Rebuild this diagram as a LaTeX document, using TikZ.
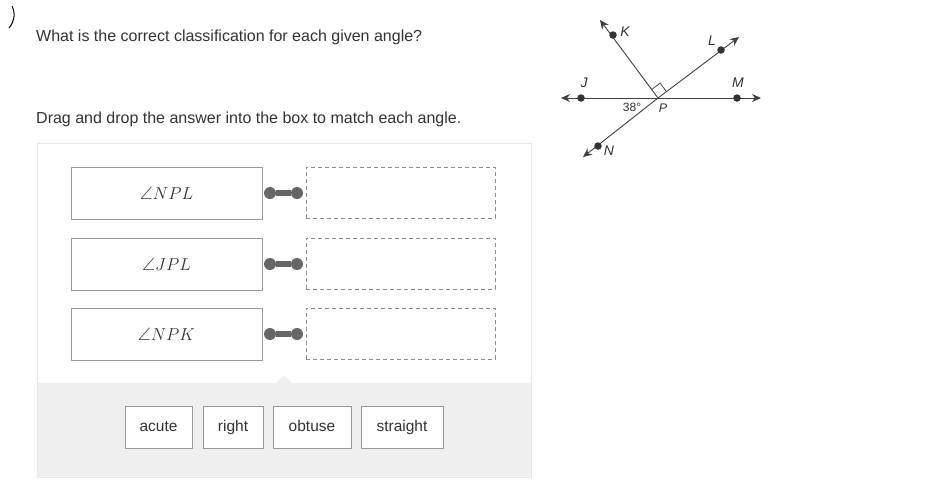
\documentclass[tikz,border=0pt]{standalone}
\usepackage{fontspec}
\setmainfont{Liberation Sans}
\usepackage{amssymb}
\usetikzlibrary{arrows.meta}
\definecolor{txt}{HTML}{333333}
\definecolor{bord}{HTML}{E6E6E6}
\definecolor{greyb}{HTML}{EFEFEF}
\definecolor{knob}{HTML}{666666}
\tikzset{
  lbox/.style={draw=gray!80, fill=white, minimum width=191pt, minimum height=52pt, inner sep=0pt, font=\fontsize{18}{20}\selectfont, text=txt},
  dbox/.style={draw=gray!90, dashed, dash pattern=on 4pt off 3pt, minimum width=189pt, minimum height=51pt, inner sep=0pt},
  btn/.style={draw=gray!80, fill=white, minimum height=42pt, inner sep=0pt, text height=11pt, text depth=3pt, font=\fontsize{15.5}{18}\selectfont, text=txt},
  dot/.style={circle, fill=black!80, inner sep=0pt, minimum size=7.5pt},
  ray/.style={draw=black!75, line width=0.9pt, -{Stealth[length=9pt,width=8pt]}},
  plab/.style={font=\itshape\fontsize{14}{16}\selectfont, text=black!80, inner sep=1pt},
  q/.style={font=\fontsize{16}{18}\selectfont, text=txt, anchor=west, inner sep=0pt}
}
\begin{document}
\begin{tikzpicture}[x=1pt,y=-1pt]
\useasboundingbox (0,0) rectangle (946,488);
\fill[white] (0,0) rectangle (946,488);
\draw[black, line width=1pt] (12,6) .. controls (16,14) and (14,22) .. (9,28);
\node[q] (q1) at (36,37) {What is the correct classification for each given angle?};
\node[q] (q2) at (36,119) {Drag and drop the answer into the box to match each angle.};
% panel
\draw[bord, fill=white] (37,143) rectangle (531,477);
\fill[greyb] (37.5,383) -- (276,383) -- (284,375) -- (292,383) -- (530.5,383) -- (530.5,476.5) -- (37.5,476.5) -- cycle;
\node[lbox] (a1) at (166.5,193) {$\angle NPL$};
\node[lbox] (a2) at (166.5,264) {$\angle JPL$};
\node[lbox] (a3) at (166.5,334) {$\angle NPK$};
\node[dbox] (d1) at (400.5,192.5) {};
\node[dbox] (d2) at (400.5,263.5) {};
\node[dbox] (d3) at (400.5,333.5) {};
\foreach \i/\y in {1/193,2/264,3/334}{
  \node[circle, fill=knob, inner sep=0pt, minimum size=12pt] (k\i a) at (270,\y) {};
  \node[circle, fill=knob, inner sep=0pt, minimum size=12pt] (k\i b) at (297,\y) {};
  \draw[knob, line width=6pt] (k\i a) -- (k\i b);
}
\node[btn, minimum width=67pt] (b1) at (158.5,427) {acute};
\node[btn, minimum width=60pt] (b2) at (233,427) {right};
\node[btn, minimum width=78pt] (b3) at (312,427) {obtuse};
\node[btn, minimum width=82pt] (b4) at (402,427) {straight};
% geometry
\coordinate (P) at (658,98);
\coordinate (Jt) at (561,98);
\coordinate (Mt) at (761,98);
\coordinate (Kt) at (600,20);
\coordinate (Lt) at (739,37);
\coordinate (Nt) at (583,157);
\draw[ray] (P) -- (Jt);
\draw[ray] (P) -- (Mt);
\draw[ray] (P) -- (Kt);
\draw[ray] (P) -- (Lt);
\draw[ray] (P) -- (Nt);
\node[dot] (J) at (581,98) {};
\node[dot] (M) at (737,98) {};
\node[dot] (K) at (613,35) {};
\node[dot] (L) at (721,50) {};
\node[dot] (N) at (598,146) {};
\draw[black!75, line width=0.7pt] (651.6,89.5) -- (660.1,83.1) -- (666.5,91.6);
\node[plab] (Jl) at (584,83) {J};
\node[plab] (Ml) at (738,83) {M};
\node[plab] (Kl) at (625,32) {K};
\node[plab] (Ll) at (712,41) {L};
\node[plab] (Nl) at (609,151) {N};
\node[plab, font=\itshape\fontsize{12.5}{14}\selectfont] (Pl) at (663,108) {P};
\node[font=\fontsize{12}{14}\selectfont, text=black!80] (ang) at (632,107) {38°};
\end{tikzpicture}
\end{document}
